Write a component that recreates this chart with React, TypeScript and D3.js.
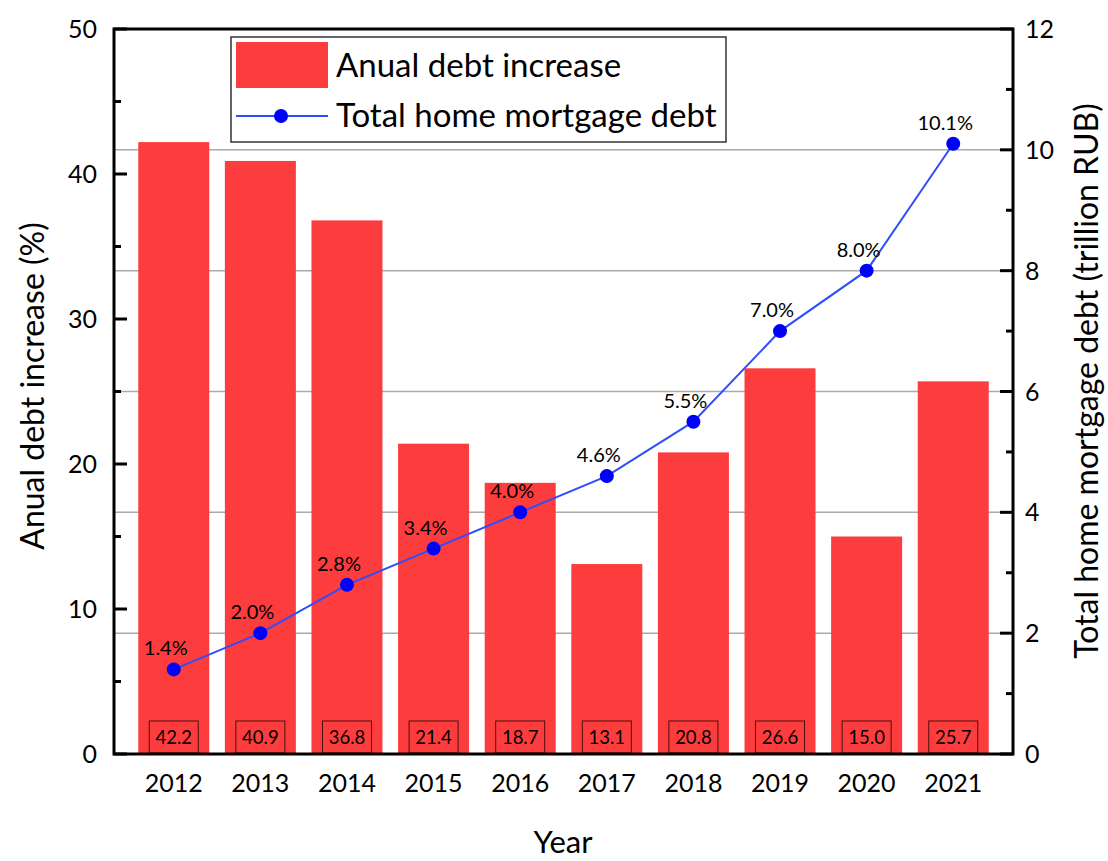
import React from "react";
import * as d3 from "d3";

const years = [2012, 2013, 2014, 2015, 2016, 2017, 2018, 2019, 2020, 2021];
const debtIncrease = [42.2, 40.9, 36.8, 21.4, 18.7, 13.1, 20.8, 26.6, 15.0, 25.7];
const totalDebt = [1.4, 2.0, 2.8, 3.4, 4.0, 4.6, 5.5, 7.0, 8.0, 10.1];
const leftTicks = [0, 10, 20, 30, 40, 50];
const leftMinor = [5, 15, 25, 35, 45];
const rightTicks = [0, 2, 4, 6, 8, 10, 12];
const rightMinor = [1, 3, 5, 7, 9, 11];
const gridValues = [2, 4, 6, 8, 10];

const W = 1108;
const H = 861;
const L = 114;
const R = 1013;
const T = 29;
const B = 754;
const FONT = "Lato, 'Open Sans', sans-serif";
const BAR = "#fd3c3e";
const LINE = "#2f4dfb";
const DOT = "#0000fe";

export default function App() {
  const x = d3.scaleLinear().domain([2011.31, 2021.69]).range([L, R]);
  const yL = d3.scaleLinear().domain([0, 50]).range([B, T]);
  const yR = d3.scaleLinear().domain([0, 12]).range([B, T]);
  const barW = 71;
  const line = d3
    .line<number>()
    .x((_, i) => x(years[i]))
    .y((d) => yR(d));

  return (
    <svg width={W} height={H} style={{ position: "absolute", left: 0, top: 0, background: "#fff" }} fontFamily={FONT}>
      <rect x={0} y={0} width={W} height={H} fill="#fff" />
      {gridValues.map((v) => (
        <line key={"g" + v} x1={L} x2={R} y1={yR(v)} y2={yR(v)} stroke="#aaaaaa" strokeWidth={1.5} />
      ))}
      {years.map((yr, i) => (
        <rect
          key={"b" + yr}
          x={x(yr) - barW / 2}
          y={yL(debtIncrease[i])}
          width={barW}
          height={B - yL(debtIncrease[i])}
          fill={BAR}
        />
      ))}
      {years.map((yr, i) => (
        <g key={"bl" + yr}>
          <rect x={x(yr) - 24.5} y={B - 33} width={49} height={32} fill="none" stroke="#4a1010" strokeWidth={1} />
          <text x={x(yr)} y={B - 10} textAnchor="middle" fontSize={18.5} fill="#000">
            {debtIncrease[i].toFixed(1)}
          </text>
        </g>
      ))}
      <path d={line(totalDebt) || ""} fill="none" stroke={LINE} strokeWidth={2} />
      {years.map((yr, i) => (
        <g key={"p" + yr}>
          <circle cx={x(yr)} cy={yR(totalDebt[i])} r={7} fill={DOT} />
          <text x={x(yr) - 8} y={yR(totalDebt[i]) - 14} textAnchor="middle" fontSize={20} fill="#000">
            {totalDebt[i].toFixed(1) + "%"}
          </text>
        </g>
      ))}
      <rect x={L} y={T} width={R - L} height={B - T} fill="none" stroke="#000" strokeWidth={3} />
      {leftTicks.map((v) => (
        <g key={"lt" + v}>
          <line x1={L} x2={L + 13} y1={yL(v)} y2={yL(v)} stroke="#000" strokeWidth={3} />
          <text x={97} y={yL(v) + 9} textAnchor="end" fontSize={25} fill="#000">
            {v}
          </text>
        </g>
      ))}
      {leftMinor.map((v) => (
        <line key={"lm" + v} x1={L} x2={L + 7} y1={yL(v)} y2={yL(v)} stroke="#000" strokeWidth={3} />
      ))}
      {rightTicks.map((v) => (
        <g key={"rt" + v}>
          <line x1={R - 13} x2={R} y1={yR(v)} y2={yR(v)} stroke="#000" strokeWidth={3} />
          <text x={1025} y={yR(v) + 9} textAnchor="start" fontSize={25} fill="#000">
            {v}
          </text>
        </g>
      ))}
      {rightMinor.map((v) => (
        <line key={"rm" + v} x1={R - 7} x2={R} y1={yR(v)} y2={yR(v)} stroke="#000" strokeWidth={3} />
      ))}
      {years.map((yr) => (
        <text key={"x" + yr} x={x(yr)} y={792} textAnchor="middle" fontSize={25} fill="#000">
          {yr}
        </text>
      ))}
      <text x={563} y={853} textAnchor="middle" fontSize={31} fill="#000">
        Year
      </text>
      <text transform={`translate(44,386) rotate(-90)`} textAnchor="middle" fontSize={32} fill="#000">
        Anual debt increase (%)
      </text>
      <text transform={`translate(1098,381) rotate(-90)`} textAnchor="middle" fontSize={32} fill="#000">
        Total home mortgage debt (trillion RUB)
      </text>
      <rect x={231} y={37} width={495} height={105} fill="#fff" stroke="#333" strokeWidth={1.5} />
      <rect x={236} y={42} width={92} height={46} fill={BAR} />
      <line x1={236} x2={328} y1={116} y2={116} stroke={LINE} strokeWidth={2} />
      <circle cx={281} cy={116} r={7} fill={DOT} />
      <text x={336} y={77} fontSize={33} fill="#000">
        Anual debt increase
      </text>
      <text x={336} y={127} fontSize={33} fill="#000">
        Total home mortgage debt
      </text>
    </svg>
  );
}
